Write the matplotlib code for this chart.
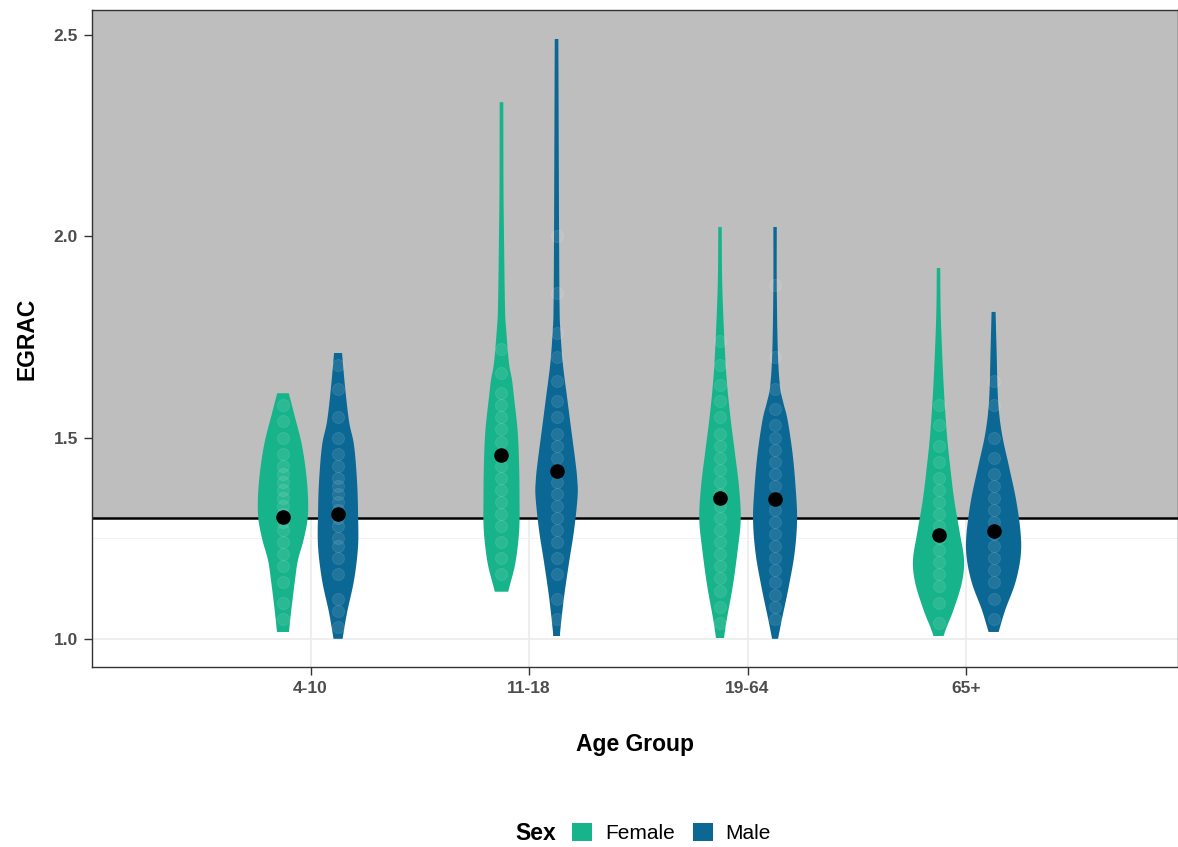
import numpy as np
import matplotlib
matplotlib.use("Agg")
import matplotlib.pyplot as plt
from matplotlib.patches import Patch
from matplotlib.offsetbox import HPacker

plt.rcParams['font.family'] = ['Liberation Sans', 'DejaVu Sans']

# ---------------- data ----------------
age_groups = ["4-10", "11-18", "19-64", "65+"]
sexes = ["Female", "Male"]
colors = {"Female": "#17B38A", "Male": "#0B6793"}

# violin outlines: y levels and half-widths (px at 218 px per x unit)
vio_y = {
    ("4-10", "Female"): [1.017, 1.065, 1.146, 1.196, 1.25, 1.31, 1.39, 1.48, 1.56, 1.61],
    ("4-10", "Male"): [1.0, 1.065, 1.146, 1.23, 1.31, 1.39, 1.48, 1.54, 1.626, 1.71],
    ("11-18", "Female"): [1.117, 1.13, 1.19, 1.27, 1.35, 1.44, 1.52, 1.60, 1.643, 1.685, 1.767, 1.824, 2.0, 2.12, 2.333],
    ("11-18", "Male"): [1.007, 1.022, 1.104, 1.19, 1.27, 1.353, 1.395, 1.437, 1.519, 1.60, 1.685, 1.767, 1.824, 2.02, 2.49],
    ("19-64", "Female"): [1.002, 1.047, 1.13, 1.213, 1.296, 1.377, 1.46, 1.544, 1.626, 1.71, 1.874, 2.023],
    ("19-64", "Male"): [1.0, 1.047, 1.13, 1.213, 1.296, 1.377, 1.46, 1.544, 1.586, 1.626, 1.71, 1.874, 2.023],
    ("65+", "Female"): [1.007, 1.03, 1.072, 1.139, 1.196, 1.263, 1.345, 1.427, 1.51, 1.636, 1.80, 1.921],
    ("65+", "Male"): [1.017, 1.072, 1.139, 1.204, 1.263, 1.345, 1.427, 1.51, 1.593, 1.718, 1.812],
}
vio_w = {
    ("4-10", "Female"): [6, 8, 12, 15, 21, 25, 24, 19, 11, 5.8],
    ("4-10", "Male"): [4.5, 9, 16, 20, 20, 19, 16, 11, 7, 4],
    ("11-18", "Female"): [6.7, 8, 14, 17.7, 18, 17.5, 16, 12.5, 10.5, 7.5, 4.7, 3.5, 2.5, 2, 1.8],
    ("11-18", "Male"): [3.5, 3.8, 7.5, 12.5, 17.5, 21, 20.7, 19, 14.7, 10.5, 6.2, 3.8, 3, 2.5, 1.8],
    ("19-64", "Female"): [4, 6.7, 12.7, 17.3, 20.7, 19, 15, 10.7, 7.3, 5, 2.3, 1.7],
    ("19-64", "Male"): [3, 6.7, 13.7, 19.5, 22, 20.5, 17.5, 12.5, 8.3, 5, 2.8, 1.7, 1.7],
    ("65+", "Female"): [5, 8.3, 15, 23.3, 25.5, 21.3, 15.7, 11.7, 8.3, 5, 2.3, 1.7],
    ("65+", "Male"): [5, 11.7, 21.7, 27, 27, 22.5, 15.5, 8.3, 4.5, 3, 2],
}

# observations (faint white dots)
obs = {
    ("4-10", "Female"): [1.05, 1.09, 1.14, 1.18, 1.21, 1.24, 1.27, 1.29, 1.31, 1.33, 1.35, 1.37, 1.39, 1.41, 1.43, 1.46, 1.50, 1.54, 1.58],
    ("4-10", "Male"): [1.03, 1.07, 1.10, 1.16, 1.20, 1.23, 1.25, 1.28, 1.30, 1.32, 1.34, 1.36, 1.38, 1.40, 1.43, 1.46, 1.50, 1.55, 1.62, 1.68],
    ("11-18", "Female"): [1.16, 1.20, 1.24, 1.28, 1.31, 1.34, 1.37, 1.40, 1.43, 1.46, 1.49, 1.52, 1.55, 1.58, 1.61, 1.66, 1.72],
    ("11-18", "Male"): [1.05, 1.10, 1.16, 1.20, 1.24, 1.27, 1.30, 1.33, 1.36, 1.39, 1.42, 1.45, 1.48, 1.51, 1.55, 1.59, 1.64, 1.70, 1.76, 1.86, 2.0],
    ("19-64", "Female"): [1.04, 1.08, 1.12, 1.15, 1.18, 1.21, 1.24, 1.27, 1.30, 1.33, 1.36, 1.39, 1.42, 1.45, 1.48, 1.51, 1.55, 1.59, 1.63, 1.68, 1.74],
    ("19-64", "Male"): [1.05, 1.08, 1.11, 1.14, 1.17, 1.20, 1.23, 1.26, 1.29, 1.32, 1.35, 1.38, 1.41, 1.44, 1.47, 1.50, 1.53, 1.57, 1.62, 1.70, 1.88],
    ("65+", "Female"): [1.04, 1.09, 1.13, 1.16, 1.19, 1.22, 1.25, 1.28, 1.31, 1.34, 1.37, 1.40, 1.44, 1.48, 1.53, 1.58],
    ("65+", "Male"): [1.05, 1.10, 1.14, 1.17, 1.20, 1.23, 1.26, 1.29, 1.32, 1.35, 1.38, 1.41, 1.45, 1.50, 1.58, 1.64],
}

means = {
    ("4-10", "Female"): 1.303, ("4-10", "Male"): 1.310,
    ("11-18", "Female"): 1.457, ("11-18", "Male"): 1.417,
    ("19-64", "Female"): 1.350, ("19-64", "Male"): 1.348,
    ("65+", "Female"): 1.258, ("65+", "Male"): 1.268,
}

threshold = 1.3
y_ticks = [1.0, 1.5, 2.0, 2.5]
y_minor = [1.25, 1.75, 2.25]

# ---------------- drawing ----------------
PX_PER_UNIT = 218.3
DODGE = 0.126


def smooth_outline(y, w, n=12):
    """Catmull-Rom rendering of the outline through the read points."""
    y = np.asarray(y, float)
    w = np.asarray(w, float)
    P = np.column_stack([y, w])
    P = np.vstack([P[0] - (P[1] - P[0]), P, P[-1] + (P[-1] - P[-2])])
    out = []
    t = np.linspace(0, 1, n, endpoint=False)
    for k in range(1, len(P) - 2):
        p0, p1, p2, p3 = P[k - 1], P[k], P[k + 1], P[k + 2]
        tt = t[:, None]
        seg = 0.5 * ((2 * p1) + (-p0 + p2) * tt + (2 * p0 - 5 * p1 + 4 * p2 - p3) * tt ** 2
                     + (-p0 + 3 * p1 - 3 * p2 + p3) * tt ** 3)
        out.append(seg)
    out.append(P[-2][None, :])
    out = np.vstack(out)
    order = np.argsort(out[:, 0], kind="stable")
    out = out[order]
    return out[:, 0], np.clip(out[:, 1], 0.8, None)


fig = plt.figure(figsize=(11.78, 8.47), dpi=100)
ax = fig.add_axes([92 / 1178, 1 - 667 / 847, 1 - 92 / 1178, (667 - 10) / 847])
ax.set_xlim(0.0, 4.97)
ax.set_ylim(0.930, 2.562)

# grid
for x in range(1, len(age_groups) + 1):
    ax.axvline(x, color="#EBEBEB", lw=1.2, zorder=0)
for y in y_ticks:
    ax.axhline(y, color="#EBEBEB", lw=1.2, zorder=0)
for y in y_minor:
    ax.axhline(y, color="#F2F2F2", lw=0.7, zorder=0)

# shaded region above threshold
ax.axhspan(threshold, 2.562, facecolor="#BEBEBE", edgecolor="none", zorder=1)
ax.axhline(threshold, color="black", lw=1.8, zorder=2)

for i, g in enumerate(age_groups):
    for j, s in enumerate(sexes):
        xc = (i + 1) + (-DODGE if s == "Female" else DODGE)
        ys, ws = smooth_outline(vio_y[(g, s)], vio_w[(g, s)])
        wv = ws / PX_PER_UNIT
        ax.fill_betweenx(ys, xc - wv, xc + wv, facecolor=colors[s], edgecolor="none", zorder=3)
        ob = np.array(obs[(g, s)])
        ax.scatter(np.full(len(ob), xc), ob, s=75, facecolor="white", edgecolor="white",
                   alpha=0.09, linewidths=0.8, zorder=4)
        ax.scatter([xc], [means[(g, s)]], s=90, color="black", zorder=5)

ax.set_xticks(range(1, len(age_groups) + 1))
ax.set_xticklabels(age_groups)
ax.set_yticks(y_ticks)
ax.set_yticklabels([f"{v:.1f}" for v in y_ticks])
ax.tick_params(axis="both", length=6, width=1, color="#333333", labelcolor="#4D4D4D",
               labelsize=12.5, pad=4)
for lab in ax.get_xticklabels() + ax.get_yticklabels():
    lab.set_fontweight("bold")
for sp in ax.spines.values():
    sp.set_color("#333333")
    sp.set_linewidth(1.0)
    sp.set_zorder(6)

ax.set_xlabel("Age Group", fontsize=16.5, fontweight="bold", labelpad=27)
ax.set_ylabel("EGRAC", fontsize=16.5, fontweight="bold", labelpad=11)

handles = [Patch(facecolor=colors[s], edgecolor="none", label=s) for s in sexes]
leg = fig.legend(handles=handles, loc="center", bbox_to_anchor=(643 / 1178, 1 - 833 / 847),
                 ncol=2, frameon=False, fontsize=15, handlelength=0.95, handleheight=0.95,
                 handletextpad=0.6, columnspacing=0.9, title="Sex",
                 title_fontproperties={"weight": "bold", "size": 16.5})
box = leg._legend_box
children = box.get_children()
new_box = HPacker(pad=box.pad, sep=12, align="center", children=children)
new_box.axes = box.axes
leg._legend_box = new_box
leg._legend_box.set_figure(fig)
leg._legend_box.set_offset(leg._findoffset)

fig.savefig("out.png", dpi=100)
